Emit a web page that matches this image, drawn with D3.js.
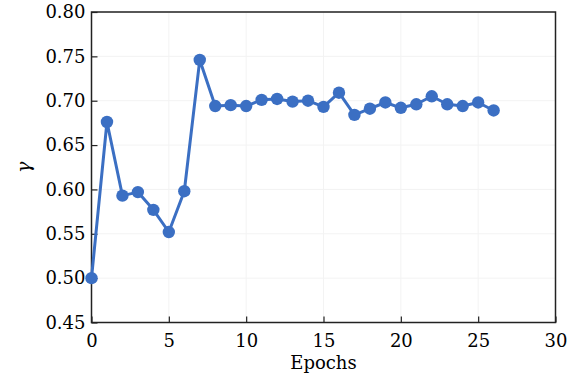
<!DOCTYPE html>
<html>
<head>
<meta charset="utf-8">
<script src="https://cdn.jsdelivr.net/npm/d3@7"></script>
<style>
  body { margin: 0; background: white; }
  text { font-family: "DejaVu Serif", serif; fill: #000; }
</style>
</head>
<body>
<script>
// data
const epochs = [0,1,2,3,4,5,6,7,8,9,10,11,12,13,14,15,16,17,18,19,20,21,22,23,24,25,26]
const gamma = [0.500,0.676,0.593,0.597,0.577,0.552,0.598,0.746,0.694,0.695,0.694,0.701,0.702,0.699,0.700,0.693,0.709,0.684,0.691,0.698,0.692,0.696,0.705,0.696,0.694,0.698,0.689]
const xTicks = [0,5,10,15,20,25,30]
const yTicks = [0.45,0.50,0.55,0.60,0.65,0.70,0.75,0.80]

const w = 577
const h = 381
const pLeft = 91.5, pRight = 555.5, pTop = 12, pBottom = 322.5
const color = "#3b6fc3"

const xScale = d3.scaleLinear().domain([0, 30]).range([pLeft, pRight])
const yScale = d3.scaleLinear().domain([0.45, 0.80]).range([pBottom, pTop])

const svg = d3.select("body")
              .append("svg")
              .attr("width", w)
              .attr("height", h)

// faint grid
svg.append("g")
   .selectAll("line")
   .data(xTicks)
   .enter()
   .append("line")
   .attr("x1", d => xScale(d)).attr("x2", d => xScale(d))
   .attr("y1", pTop).attr("y2", pBottom)
   .attr("stroke", "#f3f3f3")
svg.append("g")
   .selectAll("line")
   .data(yTicks)
   .enter()
   .append("line")
   .attr("y1", d => yScale(d)).attr("y2", d => yScale(d))
   .attr("x1", pLeft).attr("x2", pRight)
   .attr("stroke", "#f3f3f3")

// frame
svg.append("rect")
   .attr("x", pLeft).attr("y", pTop)
   .attr("width", pRight - pLeft).attr("height", pBottom - pTop)
   .attr("fill", "none")
   .attr("stroke", "#222")
   .attr("stroke-width", 1.5)

const xAxis = d3.axisBottom(xScale).tickValues(xTicks).tickSizeInner(-6).tickSizeOuter(0).tickPadding(12)
const yAxis = d3.axisLeft(yScale).tickValues(yTicks).tickFormat(d3.format(".2f")).tickSizeInner(-6).tickSizeOuter(0).tickPadding(6)

const gx = svg.append("g")
   .attr("transform", "translate(0," + pBottom + ")")
   .call(xAxis)
const gy = svg.append("g")
   .attr("transform", "translate(" + pLeft + ",0)")
   .call(yAxis)

gx.select(".domain").remove()
gy.select(".domain").remove()
svg.selectAll(".tick line").attr("stroke", "#222").attr("stroke-width", 1.2)
svg.selectAll(".tick text")
   .style("font-family", "'DejaVu Serif', serif")
   .style("font-size", "18px")
   .attr("fill", "#000")

// axis labels
svg.append("text")
   .attr("x", (pLeft + pRight) / 2)
   .attr("y", 369)
   .attr("text-anchor", "middle")
   .style("font-size", "18px")
   .text("Epochs")
svg.append("text")
   .attr("transform", "translate(30," + ((pTop + pBottom) / 2) + ") rotate(-90)")
   .attr("text-anchor", "middle")
   .style("font-size", "19px")
   .style("font-style", "italic")
   .text("γ")

// series
const pts = epochs.map((e, i) => [e, gamma[i]])
svg.append("path")
   .datum(pts)
   .attr("fill", "none")
   .attr("stroke", color)
   .attr("stroke-width", 3)
   .attr("stroke-linejoin", "round")
   .attr("d", d3.line().x(d => xScale(d[0])).y(d => yScale(d[1])))
svg.selectAll("circle")
   .data(pts)
   .enter()
   .append("circle")
   .attr("cx", d => xScale(d[0]))
   .attr("cy", d => yScale(d[1]))
   .attr("r", 6.2)
   .attr("fill", color)
</script>
</body>
</html>
